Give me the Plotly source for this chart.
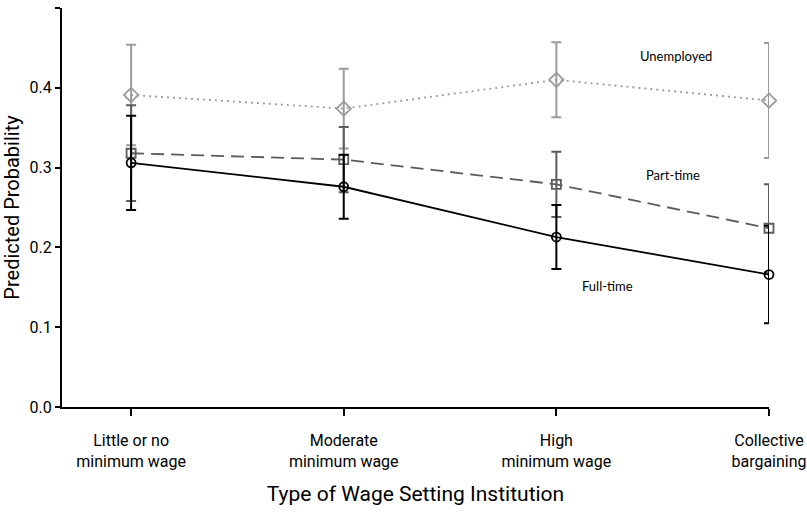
import plotly.graph_objects as go

categories = ["Little or no<br>minimum wage", "Moderate<br>minimum wage",
              "High<br>minimum wage", "Collective<br>bargaining"]
x_pos = [0, 1, 2, 3]

full_time = [0.306, 0.276, 0.213, 0.166]
full_time_err = [0.059, 0.040, 0.040, 0.061]
part_time = [0.318, 0.310, 0.279, 0.224]
part_time_err = [0.060, 0.041, 0.041, 0.055]
unemployed = [0.391, 0.374, 0.410, 0.384]
unemployed_err = [0.063, 0.050, 0.047, 0.072]

y_ticks = [0.0, 0.1, 0.2, 0.3, 0.4, 0.5]

fig = go.Figure()

def add(y, err, name, color, dash, symbol, size):
    fig.add_trace(go.Scatter(
        x=x_pos, y=y, name=name, mode="lines+markers",
        line=dict(color=color, width=1.8, dash=dash),
        marker=dict(symbol=symbol, size=size, color=color,
                    line=dict(color=color, width=1.8)),
        error_y=dict(type="data", array=err, visible=True, color=color,
                     thickness=2, width=5),
        cliponaxis=False, showlegend=False))

add(unemployed, unemployed_err, "Unemployed", "#9b9b9b", "2px,4px", "diamond-open", 11)
add(part_time, part_time_err, "Part-time", "#5c5c5c", "13px,7px", "square-open", 9)
add(full_time, full_time_err, "Full-time", "#000000", "solid", "circle-open", 9)

ann_font = dict(family="Lato, Open Sans, sans-serif", size=13, color="#000")
fig.add_annotation(x=2.562, y=0.44, text="Unemployed", showarrow=False, font=ann_font)
fig.add_annotation(x=2.548, y=0.291, text="Part-time", showarrow=False, font=ann_font)
fig.add_annotation(x=2.242, y=0.152, text="Full-time", showarrow=False, font=ann_font)

fig.update_layout(
    width=807, height=513,
    margin=dict(l=62, r=38, t=8, b=106),
    paper_bgcolor="white", plot_bgcolor="white",
    font=dict(family="Roboto, Open Sans, sans-serif", color="#000"),
    xaxis=dict(
        range=[-0.325, 3.0], tickvals=x_pos, ticktext=categories,
        showline=True, linecolor="black", linewidth=2,
        ticks="outside", ticklen=7, tickwidth=2, tickcolor="black",
        ticklabelstandoff=11,
        showgrid=False, zeroline=False, automargin=False,
        tickfont=dict(size=16),
        title=dict(text="Type of Wage Setting Institution", font=dict(size=21), standoff=16),
    ),
    yaxis=dict(
        range=[0, 0.5], tickvals=y_ticks, tickformat=".1f",
        showline=True, linecolor="black", linewidth=2,
        ticks="outside", ticklen=5, tickwidth=2, tickcolor="black",
        showgrid=False, zeroline=False, automargin=False,
        tickfont=dict(size=16),
        title=dict(text="Predicted Probability", font=dict(size=20), standoff=6),
    ),
)

fig.write_html("out.html", config={"displayModeBar": False},
               post_script="document.body.style.margin='0';")
